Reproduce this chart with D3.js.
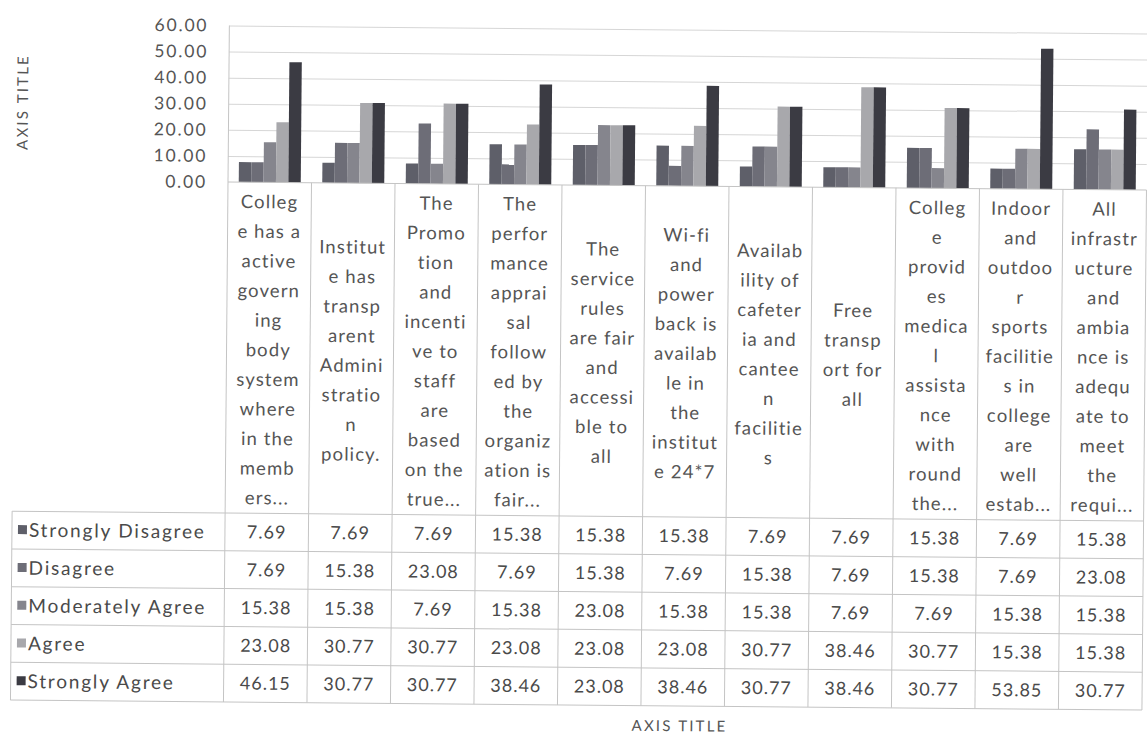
<!DOCTYPE html>
<html>
<head>
<meta charset="utf-8">
<script src="https://cdn.jsdelivr.net/npm/d3@7/dist/d3.min.js"></script>
<style>
  html, body { margin: 0; padding: 0; background: #ffffff; }
  svg { display: block; }
  text { font-family: Lato, "Open Sans", sans-serif; }
</style>
</head>
<body>
<svg id="chart" width="1147" height="735"></svg>
<script>
// ---------- DATA ----------
const categoryLines = [
  ["Colleg","e has a","active","govern","ing","body","system","where","in the","memb","ers..."],
  ["Institut","e has","transp","arent","Admini","stratio","n","policy."],
  ["The","Promo","tion","and","incenti","ve to","staff","are","based","on the","true..."],
  ["The","perfor","mance","apprai","sal","follow","ed by","the","organiz","ation is","fair..."],
  ["The","service","rules","are fair","and","accessi","ble to","all"],
  ["Wi-fi","and","power","back is","availab","le in","the","institut","e 24*7"],
  ["Availab","ility of","cafeter","ia and","cantee","n","facilitie","s"],
  ["Free","transp","ort for","all"],
  ["Colleg","e","provid","es","medica","l","assista","nce","with","round","the..."],
  ["Indoor","and","outdoo","r","sports","facilitie","s in","college","are","well","estab..."],
  ["All","infrastr","ucture","and","ambia","nce is","adequ","ate to","meet","the","requi..."]
];
const seriesNames = ["Strongly Disagree","Disagree","Moderately Agree","Agree","Strongly Agree"];
const stronglyDisagree = [7.69, 7.69, 7.69, 15.38, 15.38, 15.38, 7.69, 7.69, 15.38, 7.69, 15.38];
const disagree         = [7.69, 15.38, 23.08, 7.69, 15.38, 7.69, 15.38, 7.69, 15.38, 7.69, 23.08];
const moderatelyAgree  = [15.38, 15.38, 7.69, 15.38, 23.08, 15.38, 15.38, 7.69, 7.69, 15.38, 15.38];
const agree            = [23.08, 30.77, 30.77, 23.08, 23.08, 23.08, 30.77, 38.46, 30.77, 15.38, 15.38];
const stronglyAgree    = [46.15, 30.77, 30.77, 38.46, 23.08, 38.46, 30.77, 38.46, 30.77, 53.85, 30.77];
const yTicks = [0, 10, 20, 30, 40, 50, 60];
const axisTitleY = "AXIS TITLE";
const axisTitleX = "AXIS TITLE";

const seriesValues = [stronglyDisagree, disagree, moderatelyAgree, agree, stronglyAgree];
const colors = ["#5e5f69", "#6d6d77", "#85858d", "#a8a8ac", "#3b3b43"];
const catIdx = d3.range(categoryLines.length);

// ---------- LAYOUT ----------
const plotLeft = 228, colW = 83.5;
const plotRight = plotLeft + colW * categoryLines.length;
const yBase = 182, yTop = 25.5;
const headerBottom = 513, rowH = 37.8;
const tableLeft = 15;
const gridColor = "#d6d6d6", borderColor = "#c4c4c4";

const svg = d3.select("#chart");
const root = svg.append("g").attr("transform", `rotate(0.5, ${plotLeft}, ${yBase})`);

const x0 = d3.scaleBand().domain(catIdx).range([plotLeft, plotRight]).paddingInner(0).paddingOuter(0);
const groupPad = 10.75;
const x1 = d3.scaleBand().domain(d3.range(seriesNames.length)).range([groupPad, x0.bandwidth() - groupPad]).padding(0);
const y = d3.scaleLinear().domain([0, 60]).range([yBase, yTop]);

// gridlines
const grid = root.append("g").attr("transform", `translate(${plotLeft},0)`)
  .call(d3.axisLeft(y).tickValues(yTicks.slice(1)).tickSize(-(plotRight - plotLeft)).tickFormat(""));
grid.select(".domain").remove();
grid.selectAll(".tick line").attr("stroke", gridColor).attr("stroke-width", 1);

// y tick labels
const yAxis = root.append("g").attr("transform", `translate(207,0)`)
  .call(d3.axisLeft(y).tickValues(yTicks).tickSize(0).tickPadding(0).tickFormat(d3.format(".2f")));
yAxis.select(".domain").remove();
yAxis.selectAll("text").attr("font-size", 17.5).attr("fill", "#555").attr("letter-spacing", 1.8)
  .style("font-family", "Lato, sans-serif");

// bars
const groups = root.append("g").selectAll("g").data(catIdx).join("g")
  .attr("transform", d => `translate(${x0(d)},0)`);
groups.selectAll("rect").data(c => seriesValues.map((vals, s) => ({ s, v: vals[c] }))).join("rect")
  .attr("x", d => x1(d.s)).attr("width", x1.bandwidth())
  .attr("y", d => y(d.v)).attr("height", d => yBase - y(d.v))
  .attr("fill", d => colors[d.s]);

// table: vertical borders
const tableBottom = headerBottom + rowH * seriesNames.length;
root.append("g").selectAll("line").data(d3.range(categoryLines.length + 1)).join("line")
  .attr("x1", i => plotLeft + colW * i).attr("x2", i => plotLeft + colW * i)
  .attr("y1", i => i === 0 ? yTop : yBase).attr("y2", tableBottom)
  .attr("stroke", borderColor).attr("stroke-width", 1);
// left border of row header
root.append("line").attr("x1", tableLeft).attr("x2", tableLeft).attr("y1", headerBottom).attr("y2", tableBottom)
  .attr("stroke", borderColor);
// horizontal borders
root.append("line").attr("x1", plotLeft).attr("x2", plotRight).attr("y1", yBase).attr("y2", yBase).attr("stroke", borderColor);
root.append("g").selectAll("line").data(d3.range(seriesNames.length + 1)).join("line")
  .attr("x1", tableLeft).attr("x2", plotRight)
  .attr("y1", i => headerBottom + rowH * i).attr("y2", i => headerBottom + rowH * i)
  .attr("stroke", borderColor).attr("stroke-width", 1);

// category header labels
const lineH = 29.6;
const headerMid = (yBase + headerBottom) / 2 + 2;
const hdr = root.append("g").selectAll("text").data(catIdx).join("text")
  .attr("text-anchor", "middle").attr("font-size", 18.5).attr("fill", "#555").attr("letter-spacing", 1.1)
  .attr("x", c => x0(c) + x0.bandwidth() / 2);
hdr.each(function(c) {
  const lines = categoryLines[c];
  const startY = headerMid - (lines.length - 1) * lineH / 2;
  d3.select(this).selectAll("tspan").data(lines).join("tspan")
    .attr("x", x0(c) + x0.bandwidth() / 2)
    .attr("y", (d, i) => startY + i * lineH)
    .attr("dy", "0.35em")
    .text(d => d);
});

// row headers with legend keys
const rows = root.append("g").selectAll("g").data(seriesNames).join("g")
  .attr("transform", (d, i) => `translate(0,${headerBottom + rowH * i + rowH / 2})`);
rows.append("rect").attr("x", 21).attr("y", -5).attr("width", 9).attr("height", 9)
  .attr("fill", (d, i) => colors[i]);
rows.append("text").attr("x", 32).attr("dy", "0.35em").attr("font-size", 19).attr("fill", "#4a4a4a")
  .attr("letter-spacing", 1.8).text(d => d);

// data values
const fmt = d3.format(".2f");
seriesValues.forEach((vals, s) => {
  root.append("g").selectAll("text").data(vals).join("text")
    .attr("x", (v, c) => x0(c) + x0.bandwidth() / 2)
    .attr("y", headerBottom + rowH * s + rowH / 2)
    .attr("dy", "0.35em").attr("text-anchor", "middle")
    .attr("font-size", 18).attr("fill", "#4a4a4a").attr("letter-spacing", 1)
    .text(v => fmt(v));
});

// axis titles
root.append("text").attr("transform", `translate(22,${(yTop + yBase) / 2}) rotate(-90)`)
  .attr("text-anchor", "middle").attr("dy", "0.35em").attr("font-size", 15).attr("fill", "#555")
  .attr("letter-spacing", 2.2).text(axisTitleY);
root.append("text").attr("x", (plotLeft + plotRight) / 2 - 3).attr("y", 722)
  .attr("text-anchor", "middle").attr("dy", "0.35em").attr("font-size", 15).attr("fill", "#555")
  .attr("letter-spacing", 2.2).text(axisTitleX);
</script>
</body>
</html>
